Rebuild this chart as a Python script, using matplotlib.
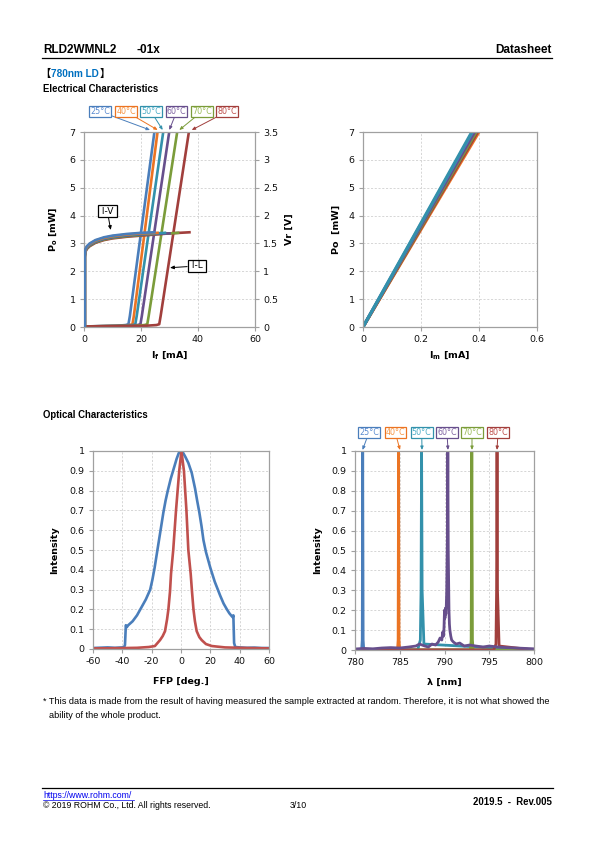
import matplotlib
matplotlib.use("Agg")
import matplotlib.pyplot as plt
from matplotlib.ticker import FuncFormatter

# ---------------- data ----------------
temps = ["25°C", "40°C", "50°C", "60°C", "70°C", "80°C"]
line_colors = ["#4A7EBB", "#EB7423", "#3391AB", "#674F8C", "#7B9C3A", "#A13F3C"]
label_colors = ["#5B8BD0", "#F79646", "#4BACC6", "#8064A2", "#9BBB59", "#C0504D"]

# I-L (If [mA] vs Po [mW])
il_current = [
    [0, 11.0, 14.6, 15.6, 16.1, 24.7],
    [0, 12.5, 16.0, 17.0, 17.5, 25.8],
    [0, 13.5, 17.0, 18.0, 18.5, 27.8],
    [0, 15.0, 18.8, 19.8, 20.3, 29.9],
    [0, 17.5, 21.2, 22.2, 22.7, 32.7],
    [0, 21.0, 25.4, 26.4, 26.9, 36.8],
]
il_power = [0.02, 0.04, 0.07, 0.1, 0.4, 7.0]

# I-V (If [mA] vs Vf [V])
iv_current = [
    [0.3, 0.3, 0.5, 1, 2, 4, 7, 10, 15, 20, 24.7],
    [0.3, 0.3, 0.5, 1, 2, 4, 7, 10, 15, 20, 25.8],
    [0.3, 0.3, 0.5, 1, 2, 4, 7, 10, 15, 20, 25, 28.4],
    [0.3, 0.3, 0.5, 1, 2, 4, 7, 10, 15, 20, 25, 30.0],
    [0.3, 0.3, 0.5, 1, 2, 4, 7, 10, 15, 20, 25, 30, 33.0],
    [0.3, 0.3, 0.5, 1, 2, 4, 7, 10, 15, 20, 25, 30, 37.0],
]
iv_voltage = [
    [0, 1.30, 1.40, 1.45, 1.50, 1.56, 1.61, 1.64, 1.67, 1.69, 1.70],
    [0, 1.29, 1.39, 1.44, 1.49, 1.55, 1.60, 1.63, 1.66, 1.68, 1.69],
    [0, 1.28, 1.38, 1.43, 1.48, 1.54, 1.59, 1.62, 1.65, 1.67, 1.68, 1.69],
    [0, 1.27, 1.37, 1.42, 1.47, 1.53, 1.58, 1.61, 1.64, 1.66, 1.67, 1.68],
    [0, 1.26, 1.36, 1.41, 1.46, 1.52, 1.57, 1.60, 1.63, 1.65, 1.67, 1.68, 1.69],
    [0, 1.25, 1.35, 1.40, 1.45, 1.51, 1.56, 1.59, 1.62, 1.64, 1.66, 1.68, 1.70],
]

# Im [mA] vs Po [mW]
im_current = [[0, 0.378], [0, 0.400], [0, 0.375], [0, 0.385], [0, 0.390], [0, 0.395]]
im_power = [0, 7.0]

# far field pattern
ffp_angle_h = [-60, -50, -45, -40, -38.8, -38.2, -37.6, -37.0, -36.0, -33, -30, -27, -24,
               -21, -19.5, -18, -16.5, -15, -13.5, -12, -10.5, -9, -7, -5, -3, -1.5, 0,
               1.5, 3, 5, 7.3, 9.6, 11, 12.5, 14, 15.3, 17, 18.5, 20, 23, 26.7, 29, 31.3,
               33, 34.7, 35.3, 35.7, 36.2, 37, 40, 45, 50, 55, 60]
ffp_int_h = [0.005, 0.008, 0.006, 0.008, 0.01, 0.02, 0.12, 0.11, 0.12, 0.14, 0.17, 0.21,
             0.25, 0.30, 0.35, 0.41, 0.48, 0.55, 0.62, 0.69, 0.75, 0.80, 0.86, 0.91, 0.96,
             0.99, 1.00, 0.99, 0.97, 0.94, 0.89, 0.81, 0.75, 0.69, 0.62, 0.55, 0.49, 0.45,
             0.41, 0.34, 0.27, 0.23, 0.20, 0.18, 0.165, 0.16, 0.17, 0.03, 0.01, 0.008,
             0.006, 0.007, 0.005, 0.005]
ffp_angle_v = [-60, -45, -30, -22, -17.8, -14.3, -12.5, -10.9, -9.5, -8.6, -7.5, -6.8, -5.3,
               -3.4, -1.2, 0.3, 2.0, 3.7, 5.0, 6.6, 7.5, 8.5, 9.5, 10.7, 12.5, 14.1, 17, 21,
               30, 45, 60]
ffp_int_v = [0.003, 0.004, 0.006, 0.01, 0.015, 0.045, 0.065, 0.09, 0.15, 0.20, 0.29, 0.38,
             0.50, 0.70, 0.90, 1.00, 0.90, 0.70, 0.50, 0.38, 0.29, 0.20, 0.14, 0.09, 0.06,
             0.045, 0.025, 0.015, 0.008, 0.005, 0.003]

# spectra
spec_wl = [
    [780.0, 780.74, 780.81, 780.86, 780.91, 780.98, 800.0],
    [780.0, 784.75, 784.82, 784.87, 784.92, 784.99, 800.0],
    [780.0, 787.0, 787.3, 787.38, 787.44, 787.5, 787.7, 800.0],
    [780, 781, 782, 783, 784, 785, 786, 786.8, 787.2, 787.5, 787.8, 788.2, 788.6, 789.0,
     789.3, 789.5, 789.7, 789.8, 789.9, 789.95, 790.0, 790.05, 790.1, 790.15, 790.2,
     790.25, 790.33, 790.37, 790.42, 790.5, 790.55, 790.6, 790.7, 790.8, 791.0, 791.3,
     791.7, 792.2, 792.8, 793.5, 794.3, 795.0, 796.0, 797, 798, 799, 800],
    [780.0, 792.9, 792.98, 793.05, 793.12, 793.2, 800.0],
    [780.0, 795.5, 795.75, 795.82, 795.87, 795.92, 796.1, 800.0],
]
spec_int = [
    [0, 0, 0.05, 1.0, 0.05, 0, 0],
    [0, 0, 0.05, 1.0, 0.05, 0, 0],
    [0, 0, 0.05, 0.3, 1.0, 0.3, 0.03, 0],
    [0.005, 0.008, 0.006, 0.01, 0.012, 0.01, 0.015, 0.02, 0.03, 0.025, 0.02, 0.015, 0.03,
     0.025, 0.04, 0.06, 0.05, 0.09, 0.07, 0.12, 0.2, 0.16, 0.21, 0.18, 0.22, 0.3, 0.6, 1.0,
     0.5, 0.2, 0.13, 0.1, 0.07, 0.05, 0.04, 0.03, 0.035, 0.02, 0.025, 0.02, 0.015, 0.02,
     0.015, 0.012, 0.01, 0.008, 0.006],
    [0, 0, 0.05, 1.0, 0.05, 0, 0],
    [0, 0, 0.03, 0.3, 1.0, 0.3, 0.02, 0],
]

# ---------------- layout helpers ----------------
W, H = 595, 842
plt.rcParams["font.family"] = ["DejaVu Sans"]
plt.rcParams["axes.unicode_minus"] = False
fig = plt.figure(figsize=(W / 100, H / 100), dpi=100)
ARIAL = ["Liberation Sans", "DejaVu Sans"]
GRID = "#D0D0D0"
SPINE = "#A0A0A0"


def box(x0, y0, x1, y1):
    return [x0 / W, 1 - y1 / H, (x1 - x0) / W, (y1 - y0) / H]


def ftext(x, y, s, **kw):
    fig.text(x / W, 1 - y / H, s, **kw)


def style(ax):
    for sp in ax.spines.values():
        sp.set_color(SPINE)
        sp.set_linewidth(0.9)
    ax.tick_params(direction="out", length=3, width=0.8, color=SPINE,
                   labelsize=6.8, labelcolor="#111111", pad=3)
    ax.grid(True, color=GRID, linestyle=(0, (2.5, 2)), linewidth=0.6)
    ax.set_axisbelow(True)


def tag(ax, text, center, tip, color, tcolor, size=5.8):
    ax.annotate(text, xy=(tip[0], H - tip[1]), xycoords="figure pixels",
                xytext=(center[0], H - center[1]), textcoords="figure pixels",
                ha="center", va="center", fontsize=size, color=tcolor,
                bbox=dict(boxstyle="square,pad=0.12", fc="white", ec=color, lw=0.9),
                arrowprops=dict(arrowstyle="-|>,head_length=0.35,head_width=0.15",
                                color=color, lw=0.7, shrinkA=0, shrinkB=0),
                annotation_clip=False, zorder=10)


general = FuncFormatter(lambda v, p: ("%g" % round(v, 3)))

# ---------------- header ----------------
ftext(43, 53.3, "RLD2WMNL2", fontsize=8.5, fontweight="bold", family=ARIAL, va="baseline")
ftext(136.5, 53.3, "-01x", fontsize=8.5, fontweight="bold", family=ARIAL, va="baseline")
ftext(552, 53.3, "Datasheet", fontsize=8.5, fontweight="bold", family=ARIAL,
      va="baseline", ha="right")
fig.add_artist(plt.Line2D([42 / W, 552 / W], [1 - 58.3 / H] * 2, color="black", lw=0.9))
ftext(50.3, 77, "【", fontsize=7.4, fontweight="bold", family=["Noto Sans CJK JP"],
      va="baseline", ha="right")
ftext(50.7, 76.7, "780nm LD", fontsize=7.2, fontweight="bold", family=ARIAL,
      va="baseline", color="#0070C0")
ftext(99.6, 77, "】", fontsize=7.4, fontweight="bold", family=["Noto Sans CJK JP"],
      va="baseline", ha="left")
ftext(43, 91.7, "Electrical Characteristics", fontsize=6.9, fontweight="bold",
      family=ARIAL, va="baseline")
ftext(43, 417.7, "Optical Characteristics", fontsize=6.9, fontweight="bold",
      family=ARIAL, va="baseline")

# ---------------- I-L / I-V ----------------
ax1 = fig.add_axes(box(84, 132, 255, 327))
style(ax1)
for i in range(len(temps)):
    ax1.plot(il_current[i], il_power[:len(il_current[i])], color=line_colors[i], lw=1.9,
             solid_capstyle="butt")
ax1.set_xlim(0, 60)
ax1.set_ylim(0, 7)
ax1.set_xticks([0, 20, 40, 60])
ax1.set_yticks(range(0, 8))

ax1b = ax1.twinx()
for sp in ax1b.spines.values():
    sp.set_visible(False)
ax1b.tick_params(direction="out", length=3, width=0.8, color=SPINE,
                 labelsize=6.8, labelcolor="#111111", pad=3)
for i in reversed(range(len(temps))):
    ax1b.plot(iv_current[i], iv_voltage[i], color=line_colors[i], lw=1.9)
ax1b.set_ylim(0, 3.5)
ax1b.set_yticks([0, 0.5, 1, 1.5, 2, 2.5, 3, 3.5])
ax1b.yaxis.set_major_formatter(general)

ftext(53, 229, "P$_\\mathregular{o}$ [mW]", fontsize=6.8, fontweight="bold",
      rotation=90, ha="center", va="center")
ftext(289, 229, "Vr [V]", fontsize=6.8, fontweight="bold", rotation=90,
      ha="center", va="center")
ftext(170, 355, "I$_\\mathregular{f}$ [mA]", fontsize=6.8, fontweight="bold",
      ha="center", va="center")

tag_centers = [(100, 111.5), (126, 111.5), (151, 111.5), (176.7, 111.5), (202, 111.5),
               (227.2, 111.5)]
tag_tips = [(150, 130), (157.7, 130), (162.7, 130), (169.3, 130), (179.3, 130),
            (191.7, 130)]
for i in range(len(temps)):
    tag(ax1b, temps[i], tag_centers[i], tag_tips[i], line_colors[i], label_colors[i])
tag(ax1b, " I-V ", (107.3, 211), (110.7, 230), "black", "black", size=6.5)
tag(ax1b, " I-L ", (197, 266), (170, 267.7), "black", "black", size=6.5)

# ---------------- Im-Po ----------------
ax2 = fig.add_axes(box(363, 132, 537, 327))
style(ax2)
for i in [1, 5, 4, 3, 0, 2]:
    ax2.plot(im_current[i], im_power, color=line_colors[i], lw=2.2)
ax2.set_xlim(0, 0.6)
ax2.set_ylim(0, 7)
ax2.set_xticks([0, 0.2, 0.4, 0.6])
ax2.set_yticks(range(0, 8))
ax2.xaxis.set_major_formatter(general)
ftext(336, 229, "Po  [mW]", fontsize=6.8, fontweight="bold", rotation=90,
      ha="center", va="center")
ftext(450, 355, "I$_\\mathregular{m}$ [mA]", fontsize=6.8, fontweight="bold",
      ha="center", va="center")

# ---------------- FFP ----------------
ax3 = fig.add_axes(box(93, 451, 269, 649))
style(ax3)
ax3.plot(ffp_angle_h, ffp_int_h, color="#4A7EBB", lw=1.9)
ax3.plot(ffp_angle_v, ffp_int_v, color="#C0504D", lw=1.9)
ax3.set_xlim(-60, 60)
ax3.set_ylim(0, 1)
ax3.set_xticks(range(-60, 61, 20))
ax3.set_yticks([i / 10 for i in range(11)])
ax3.yaxis.set_major_formatter(general)
ftext(55, 550, "Intensity", fontsize=6.8, fontweight="bold", rotation=90,
      ha="center", va="center")
ftext(181, 682, "FFP [deg.]", fontsize=6.8, fontweight="bold", ha="center", va="center")

# ---------------- spectrum ----------------
ax4 = fig.add_axes(box(355, 451, 534, 650))
style(ax4)
for i in [0, 1, 2, 4, 5, 3]:
    ax4.plot(spec_wl[i], spec_int[i], color=line_colors[i], lw=2.0)
ax4.set_xlim(780, 800)
ax4.set_ylim(0, 1)
ax4.set_xticks(range(780, 801, 5))
ax4.set_yticks([i / 10 for i in range(11)])
ax4.yaxis.set_major_formatter(general)
ftext(318, 550, "Intensity", fontsize=6.8, fontweight="bold", rotation=90,
      ha="center", va="center")
ftext(444, 682, "λ [nm]", fontsize=6.8, fontweight="bold", ha="center", va="center")

spec_centers = [(369, 432.5), (395.3, 432.5), (421.7, 432.5), (447, 432.5),
                (472, 432.5), (498, 432.5)]
spec_tips = [(362.5, 450), (400, 450), (422, 450), (448, 450), (472, 450), (497, 450)]
for i in range(len(temps)):
    tag(ax4, temps[i], spec_centers[i], spec_tips[i], line_colors[i], label_colors[i])

# ---------------- footnote / footer ----------------
ftext(43, 704, "* This data is made from the result of having measured the sample extracted "
      "at random. Therefore, it is not what showed the", fontsize=6.58, family=ARIAL,
      va="baseline")
ftext(49, 718, "ability of the whole product.", fontsize=6.58, family=ARIAL, va="baseline")

fig.add_artist(plt.Line2D([42 / W, 552.7 / W], [1 - 788.3 / H] * 2, color="black", lw=0.9))
ftext(43, 798.3, "https://www.rohm.com/", fontsize=6.35, family=ARIAL, va="baseline",
      color="#0000EE")
fig.add_artist(plt.Line2D([43 / W, 133.5 / W], [1 - 800.2 / H] * 2, color="#0000EE", lw=0.5))
ftext(43, 808.3, "© 2019 ROHM Co., Ltd. All rights reserved.", fontsize=6.35, family=ARIAL,
      va="baseline")
ftext(298, 808.3, "3/10", fontsize=6.35, family=ARIAL, va="baseline", ha="center")
ftext(552, 805, "2019.5  -  Rev.005", fontsize=6.95, fontweight="bold", family=ARIAL,
      va="baseline", ha="right")

fig.savefig("out.png", dpi=100)
